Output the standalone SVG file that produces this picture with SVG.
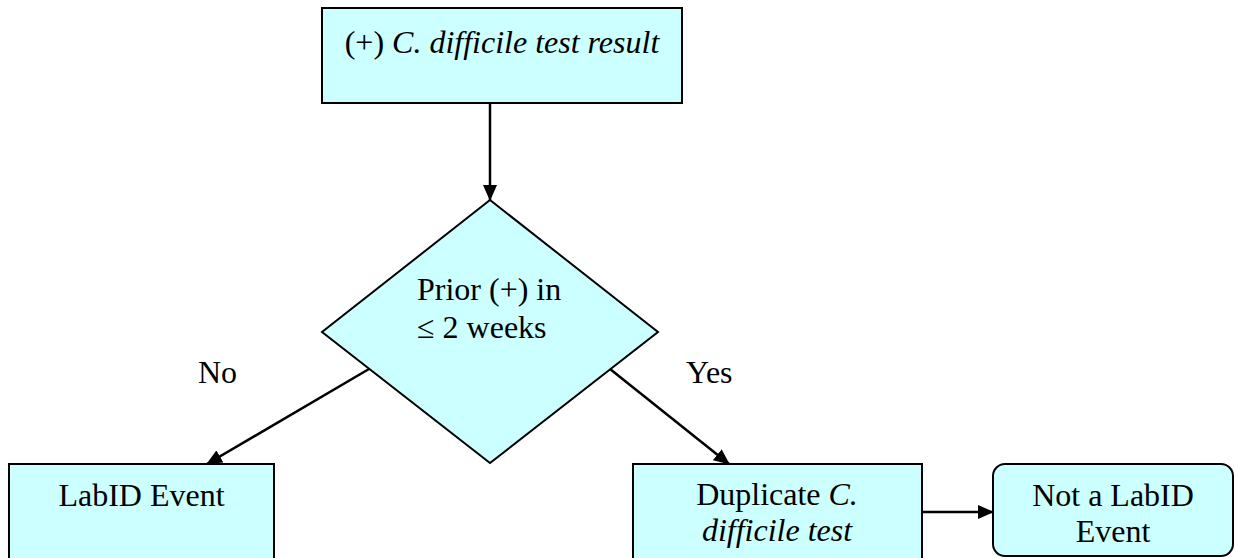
<svg xmlns="http://www.w3.org/2000/svg" width="1238" height="558" viewBox="0 0 1238 558">
<style>
.n{fill:#CCFFFF;stroke:#000;stroke-width:2}
.t{font-family:'Liberation Serif','DejaVu Serif',serif;font-size:32px;fill:#000}
.c{text-anchor:middle}
.i{font-style:italic}
.e{stroke:#000;stroke-width:2.5;fill:none;marker-end:url(#ah)}
</style>
<defs>
<marker id="ah" markerUnits="userSpaceOnUse" markerWidth="16" markerHeight="14" refX="15" refY="7" orient="auto">
<path d="M0,0 L16,7 L0,14 Z" fill="#000"/>
</marker>
</defs>
<rect width="1238" height="558" fill="#fff"/>
<g id="connectors">
<line class="e" x1="490" y1="103" x2="490" y2="200"/>
<line class="e" x1="369" y1="369" x2="207" y2="464"/>
<line class="e" x1="610" y1="369" x2="729" y2="464"/>
<line class="e" x1="922" y1="512" x2="993" y2="512"/>
</g>
<g id="start">
<rect class="n" x="322" y="8" width="360" height="95"/>
<text class="t c" x="502" y="53" font-family="Liberation Serif">(+) <tspan class="i">C. difficile test result</tspan></text>
</g>
<g id="decision">
<polygon class="n" points="490,200 658,332 490,463 322,332"/>
<text class="t" x="417" y="300">Prior (+) in</text>
<text class="t" x="417" y="338">≤ 2 weeks</text>
</g>
<g id="labels">
<text class="t" x="198" y="383">No</text>
<text class="t" x="686" y="383">Yes</text>
</g>
<g id="labid">
<rect class="n" x="9" y="464" width="265" height="110"/>
<text class="t c" x="141.5" y="506">LabID Event</text>
</g>
<g id="duplicate">
<rect class="n" x="633" y="464" width="289" height="110"/>
<text class="t c" x="777" y="505">Duplicate <tspan class="i">C.</tspan></text>
<text class="t c i" x="777" y="541">difficile test</text>
</g>
<g id="notlabid">
<rect class="n" x="993" y="464" width="240" height="92" rx="12" ry="12"/>
<text class="t c" x="1113" y="506">Not a LabID</text>
<text class="t c" x="1113" y="542">Event</text>
</g>
</svg>
